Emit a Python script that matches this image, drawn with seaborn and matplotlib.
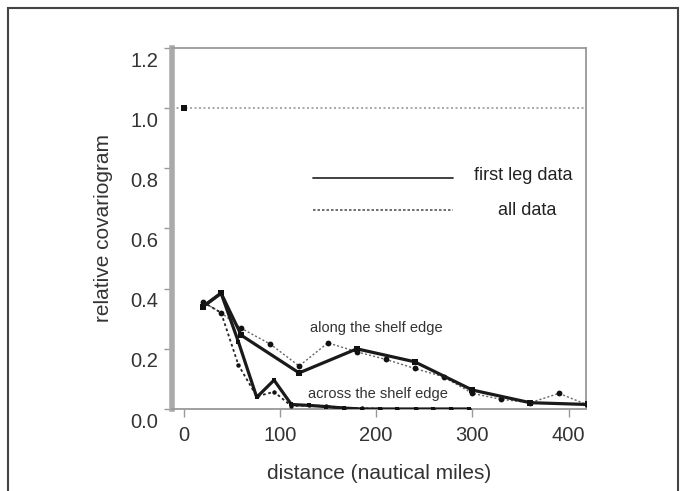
import matplotlib
matplotlib.use("Agg")
import matplotlib.pyplot as plt
from matplotlib.patches import Rectangle
from matplotlib.transforms import ScaledTranslation
import seaborn as sns
import pandas as pd

sns.set_style("white")
plt.rcParams['font.family'] = ['Liberation Sans', 'DejaVu Sans']

# first leg data, along the shelf edge
along_first_x = [20, 39, 60, 120, 180, 240, 300, 360, 420]
along_first_y = [0.34, 0.385, 0.245, 0.12, 0.20, 0.157, 0.063, 0.021, 0.015]
# all data, along the shelf edge
along_all_x = [20, 39, 60, 90, 120, 150, 180, 210, 240, 270, 300, 330, 360, 390, 420]
along_all_y = [0.356, 0.32, 0.268, 0.216, 0.143, 0.22, 0.19, 0.165, 0.135, 0.107,
               0.052, 0.032, 0.021, 0.052, 0.013]
# first leg data, across the shelf edge
across_first_x = [20, 39, 57, 76, 94, 112, 130, 148, 167, 185, 204, 222, 241, 259, 278, 296]
across_first_y = [0.34, 0.385, 0.223, 0.039, 0.096, 0.015, 0.012, 0.008, 0.003,
                  0.0, 0.0, 0.0, 0.0, 0.0, 0.0, 0.0]
# all data, across the shelf edge
across_all_x = [20, 39, 57, 76, 94, 112, 130, 148, 167, 185, 204, 222, 241, 259, 278, 296]
across_all_y = [0.356, 0.32, 0.146, 0.042, 0.057, 0.01, 0.012, 0.01, 0.004,
                0.002, 0.001, 0.0, 0.0, 0.0, 0.0, 0.0]
# lag zero
lag0_x = [0]
lag0_y = [1.0]

x_ticks = [0, 100, 200, 300, 400]
y_ticks = [0.0, 0.2, 0.4, 0.6, 0.8, 1.0, 1.2]

fig = plt.figure(figsize=(6.86, 4.91), dpi=100)
ax = fig.add_axes([172/686, 1 - 409/491, (586-172)/686, (409-48)/491])

ax.axhline(1.0, color="#999999", lw=1.2, ls=(0, (1.2, 1.5)), zorder=1)

def draw(x, y, color, lw, ls, ms, marker, z):
    df = pd.DataFrame({"x": x, "y": y})
    sns.lineplot(data=df, x="x", y="y", ax=ax, sort=False, color=color, lw=lw,
                 linestyle=ls, marker=marker, markersize=ms, markeredgewidth=0,
                 markerfacecolor="#111111", zorder=z)

draw(along_all_x, along_all_y, "#666666", 1.0, (0, (1.5, 1.5)), 4.2, "o", 3)
draw(across_all_x, across_all_y, "#222222", 1.3, (0, (1.5, 1.5)), 3.2, "o", 3)
draw(along_first_x, along_first_y, "#1a1a1a", 2.3, "-", 4.2, "s", 4)
draw(across_first_x, across_first_y, "#1a1a1a", 2.3, "-", 3.2, "s", 4)
sns.scatterplot(x=lag0_x, y=lag0_y, ax=ax, marker="s", s=25, color="#111111",
                linewidth=0, zorder=5)

ax.set_xlim(-12, 418)
ax.set_ylim(0, 1.2)
ax.set_xticks(x_ticks)
ax.set_yticks(y_ticks)
ax.set_xticklabels([str(v) for v in x_ticks])
ax.set_yticklabels([f"{v:.1f}" for v in y_ticks])
ax.tick_params(axis="both", direction="out", length=6, width=1, color="#999999",
               labelsize=14.5, labelcolor="#333333", left=True, bottom=True)
ax.tick_params(axis="y", pad=4)
ax.tick_params(axis="x", pad=6)
for lab in ax.get_yticklabels():
    lab.set_transform(lab.get_transform() + ScaledTranslation(0, -8/72, fig.dpi_scale_trans))

for s in ["top", "right", "bottom"]:
    ax.spines[s].set_color("#999999")
    ax.spines[s].set_linewidth(1.3)
ax.spines["left"].set_color("#aaaaaa")
ax.spines["left"].set_linewidth(4)

ax.set_xlabel("distance (nautical miles)", fontsize=15, color="#333333", labelpad=14)
ax.set_ylabel("relative covariogram", fontsize=15, color="#333333", labelpad=12)

# key
ax.plot([0.34, 0.679], [0.64, 0.64], transform=ax.transAxes, color="#333333", lw=1.3)
ax.plot([0.34, 0.679], [0.551, 0.551], transform=ax.transAxes, color="#555555", lw=1.2,
        ls=(0, (1.5, 1.2)))
ax.text(0.848, 0.646, "first leg data", transform=ax.transAxes, ha="center", va="center",
        fontsize=13, color="#222222")
ax.text(0.858, 0.551, "all data", transform=ax.transAxes, ha="center", va="center",
        fontsize=13, color="#222222")

ax.text(200, 0.27, "along the shelf edge", ha="center", va="center", fontsize=10.5,
        color="#333333")
ax.text(202, 0.05, "across the shelf edge", ha="center", va="center", fontsize=10.5,
        color="#333333")

fig.patches.append(Rectangle((8/686, -0.1), (678-8)/686, 1.1 - 8/491, transform=fig.transFigure,
                             fill=False, edgecolor="#444444", lw=1.5))

fig.savefig("out.png", dpi=100)
